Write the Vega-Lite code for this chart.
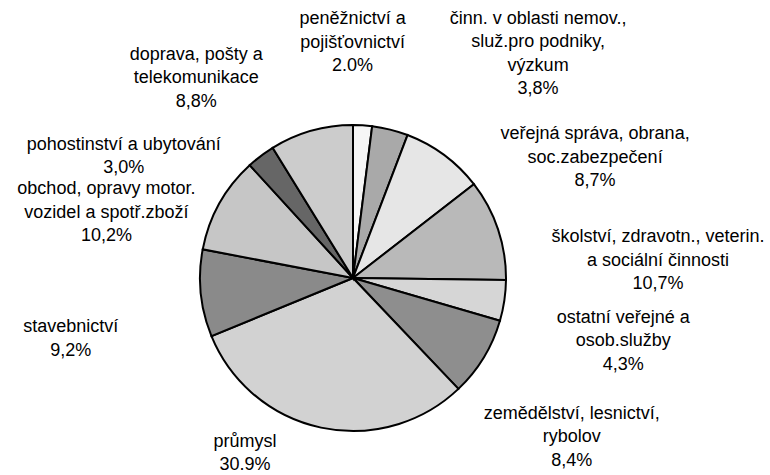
{
  "$schema": "https://vega.github.io/schema/vega-lite/v6.json",
  "width": 706,
  "height": 394,
  "autosize": {"type": "none"},
  "padding": {"left": 0, "top": 81, "right": 64, "bottom": 0},
  "background": "white",
  "config": {"view": {"stroke": null}},
  "data": {
    "values": [
      {"odvetvi": "peněžnictví a pojišťovnictví", "podil": 2.0, "popis": "peněžnictví a\npojišťovnictví\n2.0%"},
      {"odvetvi": "činn. v oblasti nemov., služ.pro podniky, výzkum", "podil": 3.8, "popis": "činn. v oblasti nemov.,\nsluž.pro podniky,\nvýzkum\n3,8%"},
      {"odvetvi": "veřejná správa, obrana, soc.zabezpečení", "podil": 8.7, "popis": "veřejná správa, obrana,\nsoc.zabezpečení\n8,7%"},
      {"odvetvi": "školství, zdravotn., veterin. a sociální činnosti", "podil": 10.7, "popis": "školství, zdravotn., veterin.\na sociální činnosti\n10,7%"},
      {"odvetvi": "ostatní veřejné a osob.služby", "podil": 4.3, "popis": "ostatní veřejné a\nosob.služby\n4,3%"},
      {"odvetvi": "zemědělství, lesnictví, rybolov", "podil": 8.4, "popis": "zemědělství, lesnictví,\nrybolov\n8,4%"},
      {"odvetvi": "průmysl", "podil": 30.9, "popis": "průmysl\n30.9%"},
      {"odvetvi": "stavebnictví", "podil": 9.2, "popis": "stavebnictví\n9,2%"},
      {"odvetvi": "obchod, opravy motor. vozidel a spotř.zboží", "podil": 10.2, "popis": "obchod, opravy motor.\nvozidel a spotř.zboží\n10,2%"},
      {"odvetvi": "pohostinství a ubytování", "podil": 3.0, "popis": "pohostinství a ubytování\n3,0%"},
      {"odvetvi": "doprava, pošty a telekomunikace", "podil": 8.8, "popis": "doprava, pošty a\ntelekomunikace\n8,8%"}
    ]
  },
  "transform": [{"window": [{"op": "row_number", "as": "poradi"}]}],
  "encoding": {
    "theta": {"field": "podil", "type": "quantitative", "stack": true},
    "order": {"field": "poradi", "type": "quantitative"}
  },
  "layer": [
    {
      "mark": {"type": "arc", "radius": 153, "stroke": "black", "strokeWidth": 2},
      "encoding": {
        "color": {
          "field": "odvetvi",
          "type": "nominal",
          "legend": null,
          "sort": null,
          "scale": {
            "domain": [
              "peněžnictví a pojišťovnictví",
              "činn. v oblasti nemov., služ.pro podniky, výzkum",
              "veřejná správa, obrana, soc.zabezpečení",
              "školství, zdravotn., veterin. a sociální činnosti",
              "ostatní veřejné a osob.služby",
              "zemědělství, lesnictví, rybolov",
              "průmysl",
              "stavebnictví",
              "obchod, opravy motor. vozidel a spotř.zboží",
              "pohostinství a ubytování",
              "doprava, pošty a telekomunikace"
            ],
            "range": ["#f6f6f6", "#a9a9a9", "#e6e6e6", "#b9b9b9", "#d6d6d6", "#8e8e8e", "#d2d2d2", "#8a8a8a", "#c6c6c6", "#666666", "#cccccc"]
          }
        }
      }
    },
    {
      "mark": {
        "type": "text",
        "radius": 153,
        "font": "Liberation Sans",
        "fontSize": 18,
        "lineHeight": 23.5,
        "lineBreak": "\n",
        "align": "center",
        "baseline": "middle",
        "color": "black",
        "dx": {"expr": "[-10, 148, 151, 160, 119, 88, -76, -130, -113, -137, -115][datum.poradi - 1]"},
        "dy": {"expr": "[-106, -111, -21, 8, 17, 56, 14, 34, -14, -11, -76][datum.poradi - 1]"}
      },
      "encoding": {"text": {"field": "popis", "type": "nominal"}}
    }
  ]
}
